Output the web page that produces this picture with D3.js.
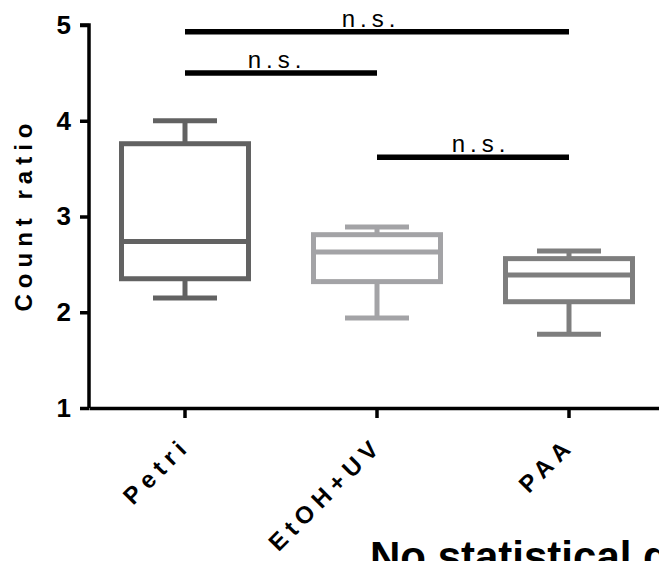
<!DOCTYPE html>
<html>
<head>
<meta charset="utf-8">
<script src="https://cdn.jsdelivr.net/npm/d3@7"></script>
<style>
  html, body { margin: 0; padding: 0; background: #fff; overflow: hidden; }
  svg { display: block; }
</style>
</head>
<body>
<svg id="chart" width="659" height="561"></svg>
<script>
// ---- data ----
const categories = ["Petri", "EtOH+UV", "PAA"];
const whiskerMin = [2.15, 1.94, 1.77];
const q1 = [2.35, 2.32, 2.11];
const median = [2.74, 2.63, 2.39];
const q3 = [3.76, 2.81, 2.56];
const whiskerMax = [4.0, 2.89, 2.64];
const boxColors = ["#626262", "#a3a3a6", "#7e7e7e"];
const yTicks = [1, 2, 3, 4, 5];
const compFrom = ["Petri", "Petri", "EtOH+UV"];
const compTo = ["PAA", "EtOH+UV", "PAA"];
const compLevel = [4.93, 4.50, 3.62];
const compLabel = ["n.s.", "n.s.", "n.s."];
const yTitle = "Count ratio";
const chartTitle = "No statistical difference";

const FONT = "Liberation Sans, Arial, sans-serif";

// ---- scales ----
const svg = d3.select("#chart");
const x = d3.scaleBand().domain(categories).range([89, 665]).padding(0);
const y = d3.scaleLinear().domain([1, 5]).range([408, 25]);
const cx = c => x(c) + x.bandwidth() / 2;
const boxW = 127, capW = 64, sw = 5;

// ---- boxes ----
const g = svg.append("g");
categories.forEach((c, i) => {
  const col = boxColors[i];
  const xc = cx(c);
  g.append("line").attr("x1", xc).attr("x2", xc).attr("y1", y(whiskerMax[i])).attr("y2", y(q3[i]))
    .attr("stroke", col).attr("stroke-width", sw);
  g.append("line").attr("x1", xc).attr("x2", xc).attr("y1", y(q1[i])).attr("y2", y(whiskerMin[i]))
    .attr("stroke", col).attr("stroke-width", sw);
  g.append("line").attr("x1", xc - capW / 2).attr("x2", xc + capW / 2).attr("y1", y(whiskerMax[i])).attr("y2", y(whiskerMax[i]))
    .attr("stroke", col).attr("stroke-width", sw);
  g.append("line").attr("x1", xc - capW / 2).attr("x2", xc + capW / 2).attr("y1", y(whiskerMin[i])).attr("y2", y(whiskerMin[i]))
    .attr("stroke", col).attr("stroke-width", sw);
  g.append("rect").attr("x", xc - boxW / 2).attr("y", y(q3[i])).attr("width", boxW).attr("height", y(q1[i]) - y(q3[i]))
    .attr("fill", "#fff").attr("stroke", col).attr("stroke-width", sw);
  g.append("line").attr("x1", xc - boxW / 2).attr("x2", xc + boxW / 2).attr("y1", y(median[i])).attr("y2", y(median[i]))
    .attr("stroke", col).attr("stroke-width", sw);
});

// ---- axes ----
const yAxis = svg.append("g").attr("transform", "translate(89,0)")
  .call(d3.axisLeft(y).tickValues(yTicks).tickSize(9).tickPadding(5).tickFormat(d3.format("d")));
yAxis.attr("font-family", FONT).attr("font-size", 26);
yAxis.select(".domain").attr("stroke", "#000").attr("stroke-width", 3.5).attr("d", `M-9,${y(5)}H0V${y(1)}`);
yAxis.selectAll(".tick line").attr("stroke", "#000").attr("stroke-width", 3.5);
yAxis.selectAll(".tick text").attr("font-family", FONT)
  .attr("font-weight", "bold").attr("font-size", 26).attr("fill", "#000").attr("x", -18);

const xAxis = svg.append("g").attr("transform", "translate(0,408)")
  .call(d3.axisBottom(x).tickSize(10).tickSizeOuter(0));
xAxis.attr("font-family", FONT).attr("font-size", 24);
xAxis.select(".domain").attr("stroke", "#000").attr("stroke-width", 3.5);
xAxis.selectAll(".tick line").attr("stroke", "#000").attr("stroke-width", 3.5);
xAxis.selectAll(".tick text")
  .attr("font-family", FONT)
  .attr("font-weight", "bold").attr("font-size", 24).attr("fill", "#000")
  .attr("letter-spacing", 6)
  .attr("text-anchor", "end")
  .attr("dy", null).attr("y", null)
  .attr("transform", "translate(7,39) rotate(-45)");

// ---- y title ----
svg.append("text")
  .attr("transform", `translate(32,${(y(1) + y(5)) / 2 - 2}) rotate(-90)`)
  .attr("text-anchor", "middle")
  .attr("font-family", FONT)
  .attr("font-weight", "bold").attr("font-size", 24)
  .attr("letter-spacing", 6)
  .text(yTitle);

// ---- significance bars ----
const labelShift = [-6, -4, 8];
compLevel.forEach((lv, i) => {
  const x1 = cx(compFrom[i]), x2 = cx(compTo[i]);
  svg.append("line").attr("x1", x1).attr("x2", x2).attr("y1", y(lv)).attr("y2", y(lv))
    .attr("stroke", "#000").attr("stroke-width", 5.5);
  svg.append("text")
    .attr("x", (x1 + x2) / 2 + labelShift[i]).attr("y", y(lv) - 5)
    .attr("text-anchor", "middle")
    .attr("font-family", FONT)
    .attr("font-size", 24).attr("letter-spacing", 5)
    .text(compLabel[i]);
});

// ---- clipped title ----
svg.append("text")
  .attr("x", 370).attr("y", 571)
  .attr("font-family", FONT)
  .attr("font-weight", "bold").attr("font-size", 42)
  .text(chartTitle);
</script>
</body>
</html>
